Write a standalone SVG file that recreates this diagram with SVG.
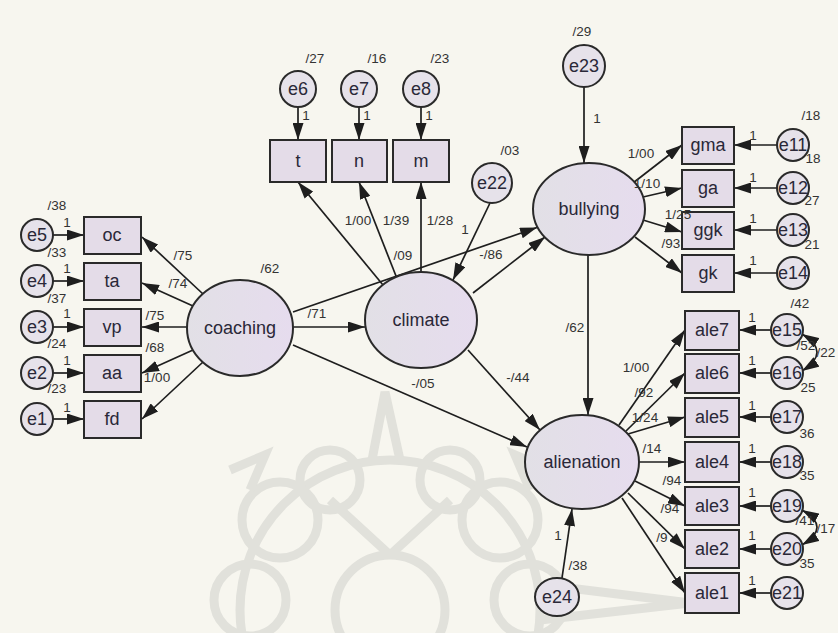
<svg xmlns="http://www.w3.org/2000/svg" width="838" height="633" viewBox="0 0 838 633">
<defs>
<marker id="ah" viewBox="0 0 17 11" refX="17" refY="5.5" markerWidth="17" markerHeight="11" orient="auto-start-reverse" markerUnits="userSpaceOnUse"><path d="M0,0 L17,5.5 L0,11 z" fill="#1e1e1e"/></marker>
<linearGradient id="lg" x1="0" y1="0" x2="1" y2="0"><stop offset="0" stop-color="#e2e0e6"/><stop offset="0.5" stop-color="#e4deea"/><stop offset="1" stop-color="#e6dcee"/></linearGradient>
</defs>
<style>
.lat{fill:url(#lg);stroke:#2a2a2a;stroke-width:2}
.box{fill:#e4dce8;stroke:#2a2a2a;stroke-width:2}
.err{fill:#e6e2ea;stroke:#2a2a2a;stroke-width:2}
.nl{font-family:"Liberation Sans",Arial,sans-serif;font-size:18px;fill:#2a2838;text-anchor:middle}
.pl{font-family:"Liberation Sans",Arial,sans-serif;font-size:13.5px;fill:#333;text-anchor:middle}
.c line,.c path{stroke:#1e1e1e;stroke-width:1.7;fill:none;marker-end:url(#ah)}
.c path.cov{marker-start:url(#ah)}
.wm{fill:none;stroke:#e1e1db;stroke-width:9}
</style>
<rect width="838" height="633" fill="#f7f6ef"/>
<g id="watermark" class="wm">
<circle cx="390" cy="610" r="55"/>
<circle cx="390" cy="610" r="150"/>
<circle cx="280" cy="520" r="38"/>
<circle cx="500" cy="520" r="38"/>
<circle cx="250" cy="600" r="36"/>
<circle cx="530" cy="600" r="36"/>
<circle cx="330" cy="480" r="30"/>
<circle cx="450" cy="480" r="30"/>
<path d="M372,460 L385,392 L400,460"/>
<path d="M230,470 L265,455 L250,490"/>
<path d="M550,470 L515,455 L530,490"/>
<path d="M540,620 L690,603 L545,585"/>
<path d="M390,555 L330,500 M390,555 L450,500"/>
</g>
<g id="connectors" class="c">
<line x1="53" y1="235" x2="84" y2="235"/>
<line x1="53" y1="281" x2="84" y2="281"/>
<line x1="53" y1="327" x2="84" y2="327"/>
<line x1="53" y1="373" x2="84" y2="373"/>
<line x1="53" y1="419" x2="84" y2="419"/>
<line x1="203" y1="294" x2="142" y2="237"/>
<line x1="193" y1="306" x2="142" y2="283"/>
<line x1="187" y1="327" x2="142" y2="327"/>
<line x1="193" y1="350" x2="142" y2="373"/>
<line x1="203" y1="362" x2="142" y2="419"/>
<line x1="298" y1="107" x2="298" y2="140"/>
<line x1="359" y1="107" x2="359" y2="140"/>
<line x1="421" y1="107" x2="421" y2="140"/>
<line x1="383" y1="285" x2="298" y2="182"/>
<line x1="396" y1="276" x2="359" y2="182"/>
<line x1="421" y1="272" x2="421" y2="182"/>
<line x1="293" y1="327" x2="365" y2="327"/>
<line x1="293" y1="312" x2="537" y2="227.5"/>
<line x1="473" y1="293" x2="545" y2="237"/>
<line x1="490" y1="203" x2="453" y2="280"/>
<line x1="293" y1="345" x2="527" y2="447"/>
<line x1="468" y1="350" x2="540" y2="430"/>
<line x1="588" y1="255" x2="588" y2="415"/>
<line x1="584" y1="87" x2="584" y2="163"/>
<line x1="633" y1="183" x2="682" y2="145"/>
<line x1="643" y1="197" x2="682" y2="188"/>
<line x1="643" y1="220" x2="682" y2="232"/>
<line x1="635" y1="237" x2="682" y2="273"/>
<line x1="777" y1="145" x2="734" y2="145"/>
<line x1="777" y1="188" x2="734" y2="188"/>
<line x1="777" y1="230" x2="734" y2="230"/>
<line x1="777" y1="273" x2="734" y2="273"/>
<line x1="619" y1="425" x2="685" y2="330"/>
<line x1="626" y1="431" x2="685" y2="373"/>
<line x1="628" y1="434" x2="685" y2="417"/>
<line x1="639" y1="462" x2="685" y2="462"/>
<line x1="635" y1="481" x2="685" y2="506"/>
<line x1="628" y1="493" x2="685" y2="549"/>
<line x1="622" y1="498" x2="685" y2="593"/>
<line x1="771" y1="330" x2="739" y2="330"/>
<line x1="771" y1="373" x2="739" y2="373"/>
<line x1="771" y1="417" x2="739" y2="417"/>
<line x1="771" y1="462" x2="739" y2="462"/>
<line x1="771" y1="506" x2="739" y2="506"/>
<line x1="771" y1="549" x2="739" y2="549"/>
<line x1="771" y1="593" x2="739" y2="593"/>
<path class="cov" d="M802,334 Q832,352 802,371"/>
<path class="cov" d="M802,510 Q832,527 802,545"/>
<line x1="562" y1="578" x2="572" y2="509"/>
</g>
<g id="coaching"><ellipse class="lat" cx="240" cy="328" rx="53" ry="48"/><text class="nl" x="240" y="334">coaching</text></g>
<g id="climate"><ellipse class="lat" cx="421" cy="320" rx="56" ry="48"/><text class="nl" x="421" y="326">climate</text></g>
<g id="bullying"><ellipse class="lat" cx="589" cy="209" rx="56" ry="46"/><text class="nl" x="589" y="215">bullying</text></g>
<g id="alienation"><ellipse class="lat" cx="582" cy="462" rx="57" ry="47"/><text class="nl" x="582" y="468">alienation</text></g>
<g id="oc"><rect class="box" x="84" y="217" width="57" height="37"/><text class="nl" x="112" y="241">oc</text></g>
<g id="ta"><rect class="box" x="84" y="263" width="57" height="37"/><text class="nl" x="112" y="287">ta</text></g>
<g id="vp"><rect class="box" x="84" y="309" width="57" height="37"/><text class="nl" x="112" y="333">vp</text></g>
<g id="aa"><rect class="box" x="84" y="355" width="57" height="37"/><text class="nl" x="112" y="379">aa</text></g>
<g id="fd"><rect class="box" x="84" y="401" width="57" height="37"/><text class="nl" x="112" y="425">fd</text></g>
<g id="e5"><circle class="err" cx="37" cy="235" r="16"/><text class="nl" x="37" y="241">e5</text></g>
<g id="e4"><circle class="err" cx="37" cy="281" r="16"/><text class="nl" x="37" y="287">e4</text></g>
<g id="e3"><circle class="err" cx="37" cy="327" r="16"/><text class="nl" x="37" y="333">e3</text></g>
<g id="e2"><circle class="err" cx="37" cy="373" r="16"/><text class="nl" x="37" y="379">e2</text></g>
<g id="e1"><circle class="err" cx="37" cy="419" r="16"/><text class="nl" x="37" y="425">e1</text></g>
<g id="t"><rect class="box" x="270" y="140" width="56" height="42"/><text class="nl" x="298" y="167">t</text></g>
<g id="n"><rect class="box" x="332" y="140" width="55" height="42"/><text class="nl" x="359" y="167">n</text></g>
<g id="m"><rect class="box" x="393" y="140" width="56" height="42"/><text class="nl" x="421" y="167">m</text></g>
<g id="e6"><circle class="err" cx="298" cy="89" r="18"/><text class="nl" x="298" y="95">e6</text></g>
<g id="e7"><circle class="err" cx="359" cy="89" r="18"/><text class="nl" x="359" y="95">e7</text></g>
<g id="e8"><circle class="err" cx="421" cy="89" r="18"/><text class="nl" x="421" y="95">e8</text></g>
<g id="e22"><circle class="err" cx="492" cy="183" r="20"/><text class="nl" x="492" y="189">e22</text></g>
<g id="e23"><circle class="err" cx="584" cy="66" r="21"/><text class="nl" x="584" y="72">e23</text></g>
<g id="gma"><rect class="box" x="682" y="127" width="52" height="37"/><text class="nl" x="708" y="151">gma</text></g>
<g id="ga"><rect class="box" x="682" y="170" width="52" height="37"/><text class="nl" x="708" y="194">ga</text></g>
<g id="ggk"><rect class="box" x="682" y="212" width="52" height="37"/><text class="nl" x="708" y="236">ggk</text></g>
<g id="gk"><rect class="box" x="682" y="255" width="52" height="37"/><text class="nl" x="708" y="279">gk</text></g>
<g id="e11"><circle class="err" cx="793" cy="145" r="16"/><text class="nl" x="793" y="151">e11</text></g>
<g id="e12"><circle class="err" cx="793" cy="188" r="16"/><text class="nl" x="793" y="194">e12</text></g>
<g id="e13"><circle class="err" cx="793" cy="230" r="16"/><text class="nl" x="793" y="236">e13</text></g>
<g id="e14"><circle class="err" cx="793" cy="273" r="16"/><text class="nl" x="793" y="279">e14</text></g>
<g id="ale7"><rect class="box" x="685" y="311" width="54" height="39"/><text class="nl" x="712" y="336">ale7</text></g>
<g id="ale6"><rect class="box" x="685" y="354" width="54" height="39"/><text class="nl" x="712" y="379">ale6</text></g>
<g id="ale5"><rect class="box" x="685" y="398" width="54" height="39"/><text class="nl" x="712" y="423">ale5</text></g>
<g id="ale4"><rect class="box" x="685" y="442" width="54" height="40"/><text class="nl" x="712" y="468">ale4</text></g>
<g id="ale3"><rect class="box" x="685" y="487" width="54" height="38"/><text class="nl" x="712" y="512">ale3</text></g>
<g id="ale2"><rect class="box" x="685" y="530" width="54" height="38"/><text class="nl" x="712" y="555">ale2</text></g>
<g id="ale1"><rect class="box" x="685" y="573" width="54" height="40"/><text class="nl" x="712" y="599">ale1</text></g>
<g id="e15"><circle class="err" cx="787" cy="330" r="16"/><text class="nl" x="787" y="336">e15</text></g>
<g id="e16"><circle class="err" cx="787" cy="373" r="16"/><text class="nl" x="787" y="379">e16</text></g>
<g id="e17"><circle class="err" cx="787" cy="417" r="16"/><text class="nl" x="787" y="423">e17</text></g>
<g id="e18"><circle class="err" cx="787" cy="462" r="16"/><text class="nl" x="787" y="468">e18</text></g>
<g id="e19"><circle class="err" cx="787" cy="506" r="16"/><text class="nl" x="787" y="512">e19</text></g>
<g id="e20"><circle class="err" cx="787" cy="549" r="16"/><text class="nl" x="787" y="555">e20</text></g>
<g id="e21"><circle class="err" cx="787" cy="593" r="16"/><text class="nl" x="787" y="599">e21</text></g>
<g id="e24"><ellipse class="err" cx="557" cy="597" rx="22" ry="19"/><text class="nl" x="557" y="603">e24</text></g>
<g id="labels">
<text class="pl" x="57" y="210">/38</text>
<text class="pl" x="67" y="227">1</text>
<text class="pl" x="57" y="257">/33</text>
<text class="pl" x="67" y="273">1</text>
<text class="pl" x="57" y="303">/37</text>
<text class="pl" x="67" y="318">1</text>
<text class="pl" x="57" y="348">/24</text>
<text class="pl" x="67" y="365">1</text>
<text class="pl" x="57" y="393">/23</text>
<text class="pl" x="67" y="412">1</text>
<text class="pl" x="183" y="260">/75</text>
<text class="pl" x="178" y="288">/74</text>
<text class="pl" x="155" y="320">/75</text>
<text class="pl" x="155" y="352">/68</text>
<text class="pl" x="157" y="382">1/00</text>
<text class="pl" x="270" y="273">/62</text>
<text class="pl" x="317" y="318">/71</text>
<text class="pl" x="423" y="388">-/05</text>
<text class="pl" x="518" y="382">-/44</text>
<text class="pl" x="403" y="260">/09</text>
<text class="pl" x="491" y="259">-/86</text>
<text class="pl" x="465" y="234">1</text>
<text class="pl" x="510" y="155">/03</text>
<text class="pl" x="358" y="225">1/00</text>
<text class="pl" x="396" y="225">1/39</text>
<text class="pl" x="440" y="225">1/28</text>
<text class="pl" x="315" y="63">/27</text>
<text class="pl" x="377" y="63">/16</text>
<text class="pl" x="440" y="63">/23</text>
<text class="pl" x="306" y="120">1</text>
<text class="pl" x="367" y="120">1</text>
<text class="pl" x="429" y="120">1</text>
<text class="pl" x="582" y="36">/29</text>
<text class="pl" x="597" y="123">1</text>
<text class="pl" x="575" y="332">/62</text>
<text class="pl" x="641" y="158">1/00</text>
<text class="pl" x="647" y="188">1/10</text>
<text class="pl" x="678" y="219">1/25</text>
<text class="pl" x="671" y="248">/93</text>
<text class="pl" x="753" y="140">1</text>
<text class="pl" x="753" y="182">1</text>
<text class="pl" x="753" y="223">1</text>
<text class="pl" x="753" y="265">1</text>
<text class="pl" x="811" y="120">/18</text>
<text class="pl" x="813" y="163">18</text>
<text class="pl" x="812" y="205">27</text>
<text class="pl" x="812" y="249">21</text>
<text class="pl" x="800" y="308">/42</text>
<text class="pl" x="636" y="372">1/00</text>
<text class="pl" x="644" y="397">/92</text>
<text class="pl" x="645" y="422">1/24</text>
<text class="pl" x="652" y="453">/14</text>
<text class="pl" x="672" y="485">/94</text>
<text class="pl" x="670" y="513">/94</text>
<text class="pl" x="662" y="542">/9</text>
<text class="pl" x="752" y="322">1</text>
<text class="pl" x="752" y="365">1</text>
<text class="pl" x="752" y="410">1</text>
<text class="pl" x="752" y="453">1</text>
<text class="pl" x="752" y="497">1</text>
<text class="pl" x="752" y="540">1</text>
<text class="pl" x="752" y="585">1</text>
<text class="pl" x="806" y="350">/52</text>
<text class="pl" x="826" y="357">/22</text>
<text class="pl" x="808" y="392">25</text>
<text class="pl" x="807" y="438">36</text>
<text class="pl" x="807" y="480">35</text>
<text class="pl" x="805" y="525">/41</text>
<text class="pl" x="826" y="533">/17</text>
<text class="pl" x="807" y="568">35</text>
<text class="pl" x="558" y="540">1</text>
<text class="pl" x="578" y="570">/38</text>
</g>
</svg>
